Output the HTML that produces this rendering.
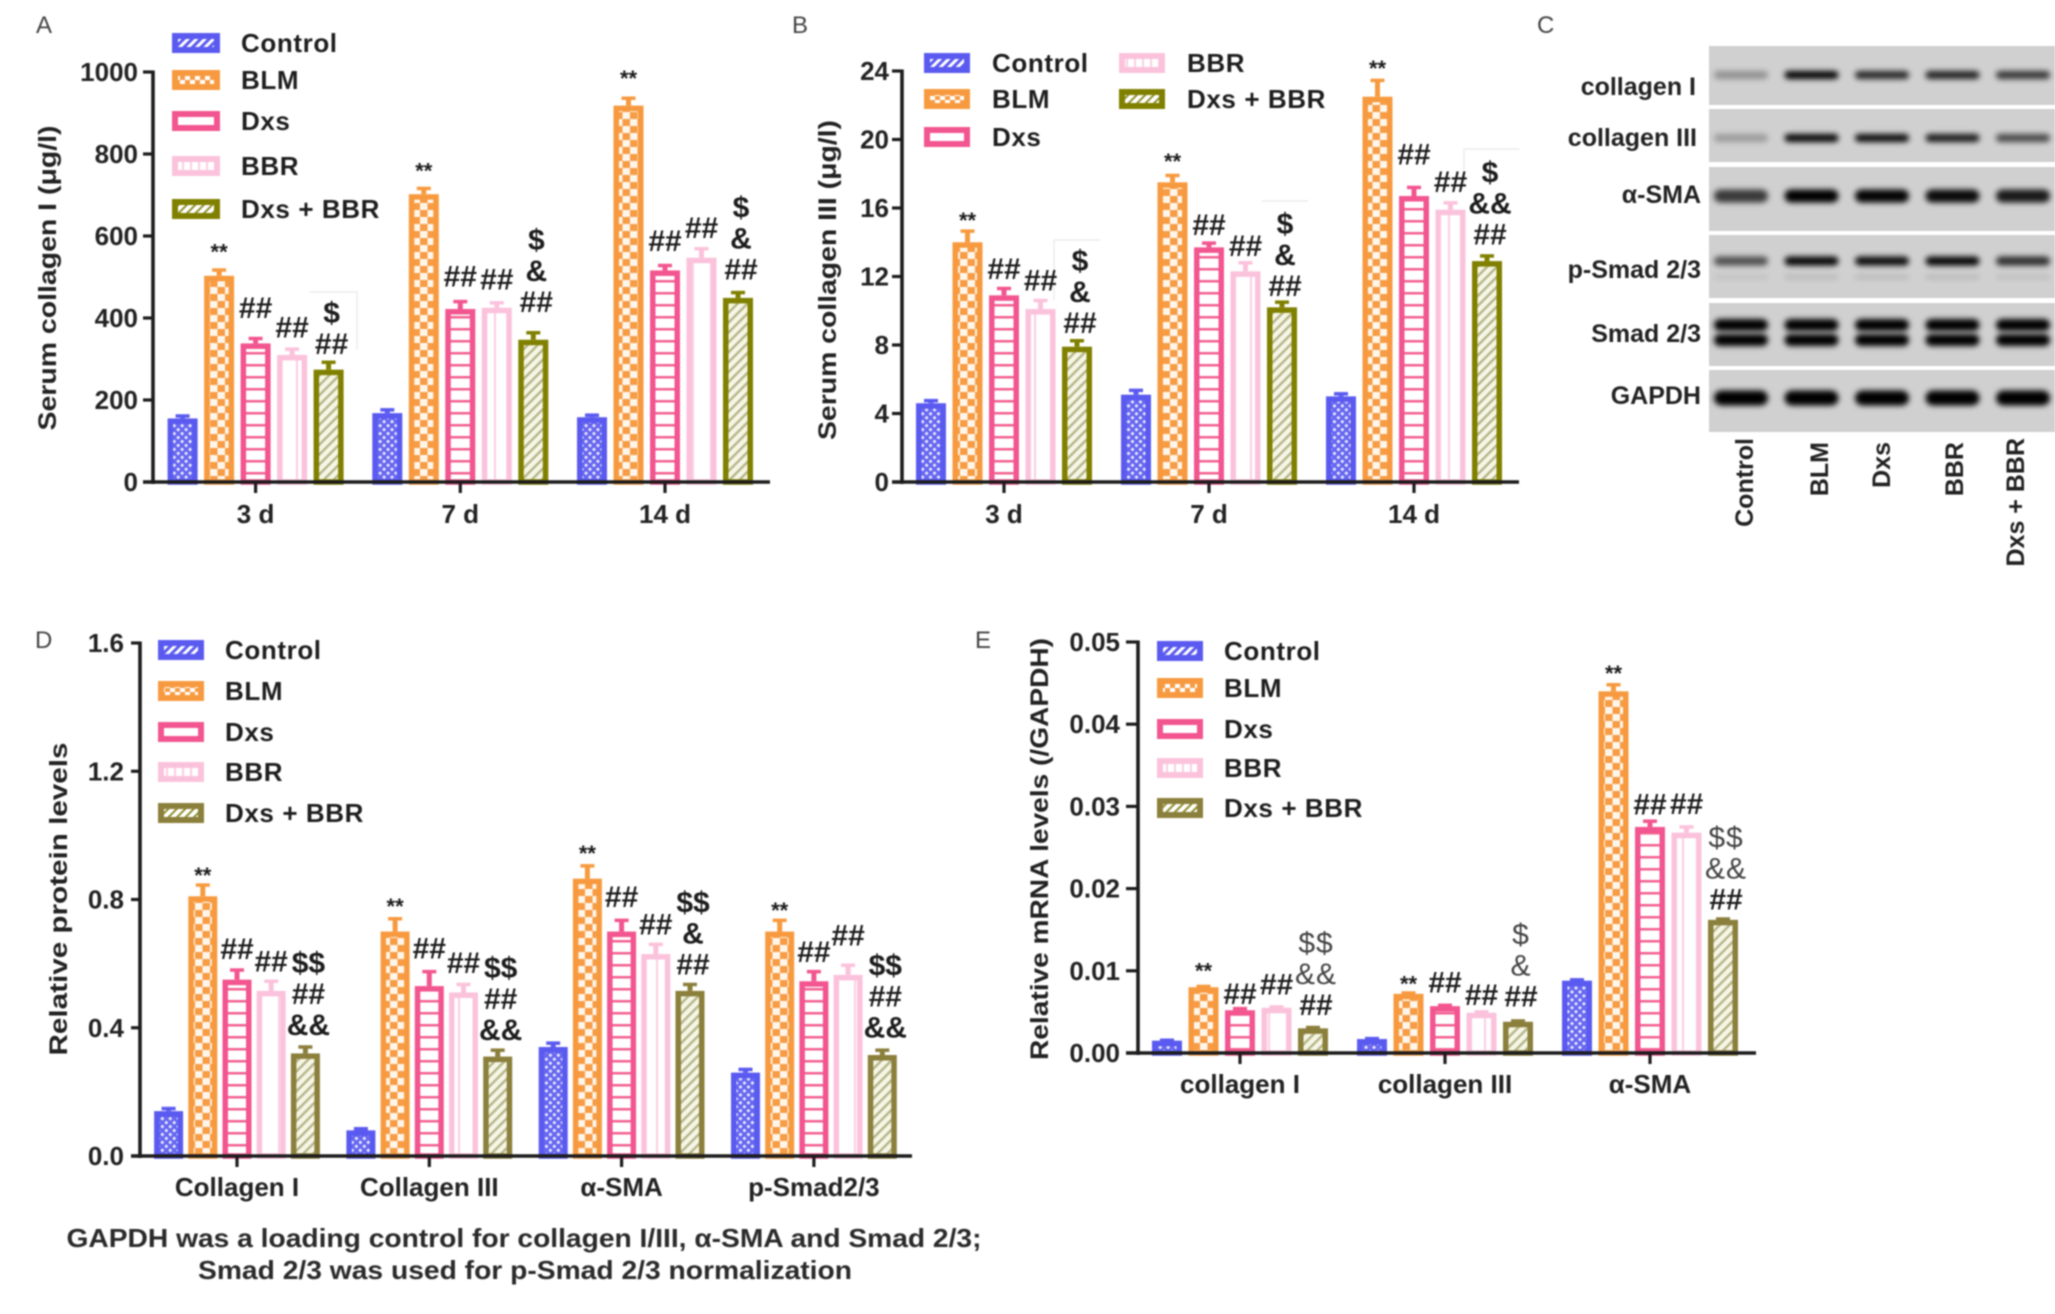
<!DOCTYPE html>
<html lang="en">
<head>
<meta charset="utf-8">
<title>Serum collagen, protein and mRNA levels</title>
<style>
html,body{margin:0;padding:0;background:#fff;}
#figure{display:block;width:2055px;height:1314px;filter:blur(0.8px);font-family:"Liberation Sans",Arial,sans-serif;}
.panel-letter{font-size:24px;fill:#444;}
.title{font-size:25px;font-weight:bold;fill:#222;}
.tick{font-size:26px;font-weight:bold;fill:#222;text-anchor:end;dominant-baseline:central;}
.cat{font-size:26px;font-weight:bold;fill:#222;text-anchor:middle;dominant-baseline:central;}
.leg{font-size:26px;font-weight:bold;fill:#1e1e1e;dominant-baseline:central;letter-spacing:.6px;}
.note{font-weight:bold;fill:#1c1c1c;text-anchor:middle;dominant-baseline:central;}
.blot-label{font-size:25px;font-weight:bold;fill:#222;text-anchor:end;dominant-baseline:central;}
.foot{font-size:26px;font-weight:bold;fill:#2a2a2a;text-anchor:middle;dominant-baseline:central;}
.artifact{stroke:#ececec;stroke-width:1.5;fill:none;}
</style>
</head>
<body>
<svg id="figure" xmlns="http://www.w3.org/2000/svg" width="2055" height="1314" viewBox="0 0 2055 1314">
<defs>
  <pattern id="fill-control" width="5.6" height="5.6" patternUnits="userSpaceOnUse" patternTransform="rotate(45)">
    <rect width="5.6" height="5.6" fill="#ecebff"/><rect width="2.8" height="5.6" fill="#6666f0"/><rect width="5.6" height="2.8" fill="#6666f0"/>
  </pattern>
  <pattern id="fill-blm" width="15" height="14" patternUnits="userSpaceOnUse">
    <rect width="15" height="14" fill="#fff6ea"/><rect width="7.5" height="7" fill="#f79c45"/><rect x="7.5" y="7" width="7.5" height="7" fill="#f79c45"/>
  </pattern>
  <pattern id="fill-dxs" width="10" height="12" patternUnits="userSpaceOnUse">
    <rect width="10" height="12" fill="#fff"/><rect y="4" width="10" height="2.5" fill="#f2608f"/>
  </pattern>
  <pattern id="fill-bbr" width="18" height="10" patternUnits="userSpaceOnUse">
    <rect width="18" height="10" fill="#fff"/><rect x="8" width="2" height="10" fill="#fbcfe2"/>
  </pattern>
  <pattern id="fill-combo" width="7" height="7" patternUnits="userSpaceOnUse" patternTransform="rotate(45)">
    <rect width="7" height="7" fill="#f6f6e6"/><rect width="2.4" height="7" fill="#b5b58a"/>
  </pattern>
  <pattern id="leg-control" width="6" height="6" patternUnits="userSpaceOnUse" patternTransform="rotate(45)">
    <rect width="6" height="6" fill="#fff"/><rect width="3" height="6" fill="#5b5bf0"/>
  </pattern>
  <pattern id="leg-blm" width="10" height="8" patternUnits="userSpaceOnUse">
    <rect width="10" height="8" fill="#f79c45"/><rect width="5" height="4" fill="#fff"/><rect x="5" y="4" width="5" height="4" fill="#fff"/>
  </pattern>
  <pattern id="leg-bbr" width="8" height="8" patternUnits="userSpaceOnUse">
    <rect width="8" height="8" fill="#fff"/><rect x="6" width="2" height="8" fill="#fbcfe2"/>
  </pattern>
  <pattern id="leg-combo" width="6" height="6" patternUnits="userSpaceOnUse" patternTransform="rotate(45)">
    <rect width="6" height="6" fill="#fff"/><rect width="2" height="6" fill="#8f8f30"/>
  </pattern>
  <filter id="band-blur" x="-30%" y="-150%" width="160%" height="400%"><feGaussianBlur stdDeviation="3"/></filter>
</defs>

<text class="panel-letter" x="36" y="33">A</text>
<text class="panel-letter" x="792" y="33">B</text>
<text class="panel-letter" x="1537" y="33">C</text>
<text class="panel-letter" x="35" y="648">D</text>
<text class="panel-letter" x="975" y="648">E</text>

<text class="title" text-anchor="middle" dominant-baseline="central" transform="translate(48,278) rotate(-90)" textLength="305" lengthAdjust="spacingAndGlyphs">Serum collagen I (μg/l)</text>
<text class="title" text-anchor="middle" dominant-baseline="central" transform="translate(828,280) rotate(-90)" textLength="320" lengthAdjust="spacingAndGlyphs">Serum collagen III (μg/l)</text>
<text class="title" text-anchor="middle" dominant-baseline="central" transform="translate(59,899) rotate(-90)" textLength="313" lengthAdjust="spacingAndGlyphs">Relative protein levels</text>
<text class="title" text-anchor="middle" dominant-baseline="central" transform="translate(1040,849) rotate(-90)" textLength="422" lengthAdjust="spacingAndGlyphs">Relative mRNA levels (/GAPDH)</text>

<g>
  <path class="artifact" d="M310 292H357V350"/>
  <path class="artifact" d="M1054 300V240H1100"/>
  <path class="artifact" d="M1262 201H1308"/>
  <path class="artifact" d="M1464 185V149H1519"/>
</g>

<g id="panel-a"></g>
<g id="panel-b"></g>
<g id="panel-c"></g>
<g id="panel-d"></g>
<g id="panel-e"></g>

<text class="foot" x="524" y="1238" textLength="915" lengthAdjust="spacingAndGlyphs">GAPDH was a loading control for collagen I/III, α-SMA and Smad 2/3;</text>
<text class="foot" x="525" y="1270" textLength="654" lengthAdjust="spacingAndGlyphs">Smad 2/3 was used for p-Smad 2/3 normalization</text>
</svg>

<script>
/* ---------- shared series ---------- */
const seriesNames = ['Control', 'BLM', 'Dxs', 'BBR', 'Dxs + BBR'];

/* ---------- panel A data ---------- */
const aCategories = ['3 d', '7 d', '14 d'];
const aTicks = ['0', '200', '400', '600', '800', '1000'];
const aControl = [155, 168, 158];
const aBLM = [503, 702, 918];
const aDxs = [338, 422, 516];
const aBBR = [310, 425, 547];
const aCombo = [274, 347, 449];
const aControlErr = [6, 8, 5];
const aBLMErr = [14, 14, 18];
const aDxsErr = [12, 18, 12];
const aBBRErr = [14, 12, 22];
const aComboErr = [18, 17, 13];
const aNotes = [
  [[], [], []],
  [['**'], ['**'], ['**']],
  [['##'], ['##'], ['##']],
  [['##'], ['##'], ['##']],
  [['$', '##'], ['$', '&', '##'], ['$', '&', '##']]
];

/* ---------- panel B data ---------- */
const bCategories = ['3 d', '7 d', '14 d'];
const bTicks = ['0', '4', '8', '12', '16', '20', '24'];
const bControl = [4.6, 5.1, 5.0];
const bBLM = [14.0, 17.5, 22.5];
const bDxs = [10.9, 13.7, 16.7];
const bBBR = [10.1, 12.3, 15.9];
const bCombo = [7.9, 10.2, 12.9];
const bControlErr = [0.15, 0.25, 0.15];
const bBLMErr = [0.65, 0.4, 0.95];
const bDxsErr = [0.4, 0.25, 0.5];
const bBBRErr = [0.5, 0.5, 0.4];
const bComboErr = [0.35, 0.3, 0.3];
const bNotes = [
  [[], [], []],
  [['**'], ['**'], ['**']],
  [['##'], ['##'], ['##']],
  [['##'], ['##'], ['##']],
  [['$', '&', '##'], ['$', '&', '##'], ['$', '&&', '##']]
];

/* ---------- panel D data ---------- */
const dCategories = ['Collagen I', 'Collagen III', 'α-SMA', 'p-Smad2/3'];
const dTicks = ['0.0', '0.4', '0.8', '1.2', '1.6'];
const dControl = [0.14, 0.08, 0.34, 0.26];
const dBLM = [0.81, 0.70, 0.865, 0.70];
const dDxs = [0.55, 0.53, 0.70, 0.545];
const dBBR = [0.515, 0.51, 0.63, 0.565];
const dCombo = [0.32, 0.31, 0.515, 0.315];
const dControlErr = [0.008, 0.005, 0.012, 0.01];
const dBLMErr = [0.035, 0.04, 0.04, 0.035];
const dDxsErr = [0.03, 0.045, 0.035, 0.03];
const dBBRErr = [0.03, 0.025, 0.03, 0.03];
const dComboErr = [0.02, 0.02, 0.02, 0.015];
const dNotes = [
  [[], [], [], []],
  [['**'], ['**'], ['**'], ['**']],
  [['##'], ['##'], ['##'], ['##']],
  [['##'], ['##'], ['##'], ['##']],
  [['$$', '##', '&&'], ['$$', '##', '&&'], ['$$', '&', '##'], ['$$', '##', '&&']]
];

/* ---------- panel E data ---------- */
const eCategories = ['collagen I', 'collagen III', 'α-SMA'];
const eTicks = ['0.00', '0.01', '0.02', '0.03', '0.04', '0.05'];
const eControl = [0.0015, 0.0017, 0.0088];
const eBLM = [0.0080, 0.0072, 0.0440];
const eDxs = [0.0052, 0.0057, 0.0275];
const eBBR = [0.0055, 0.0049, 0.0268];
const eCombo = [0.0030, 0.0038, 0.0162];
const eControlErr = [0.00005, 0.00005, 0.0001];
const eBLMErr = [0.0001, 0.0001, 0.0008];
const eDxsErr = [0.0002, 0.0001, 0.0007];
const eBBRErr = [0.0001, 0.0001, 0.0007];
const eComboErr = [0.0001, 0.0001, 0.0001];
const eNotes = [
  [[], [], []],
  [['**'], ['**'], ['**']],
  [['##'], ['##'], ['##']],
  [['##'], ['##'], ['##']],
  [['$$', '&&', '##'], ['$', '&', '##'], ['$$', '&&', '##']]
];

/* ---------- panel C band strengths (0..1) ---------- */
const blotLanes = ['Control', 'BLM', 'Dxs', 'BBR', 'Dxs + BBR'];
const blotRows = ['collagen I', 'collagen III', 'α-SMA', 'p-Smad 2/3', 'Smad 2/3', 'GAPDH'];
const bandCollagenI = [0.3, 1, 0.82, 0.85, 0.75];
const bandCollagenIII = [0.25, 0.98, 0.95, 0.88, 0.65];
const bandSma = [0.72, 1, 0.98, 0.95, 0.88];
const bandPSmad = [0.62, 0.98, 0.95, 0.98, 0.78];
const bandSmad = [1, 1, 1, 1, 1];
const bandGapdh = [1, 1, 1, 1, 1];

/* ---------- layout only ---------- */
const seriesStyles = [
  {key: 'control', stroke: '#5a5af0', swatch: 'leg-control', fill: 'fill-control'},
  {key: 'blm', stroke: '#f79a3f', swatch: 'leg-blm', fill: 'fill-blm'},
  {key: 'dxs', stroke: '#f2558f', swatch: '#fff', fill: 'fill-dxs'},
  {key: 'bbr', stroke: '#fbc2dc', swatch: 'leg-bbr', fill: 'fill-bbr'},
  {key: 'combo', stroke: '#808000', swatch: 'leg-combo', fill: 'fill-combo'}
];
const layouts = {
  a: {axisX: 153, zeroY: 482, topY: 72, startX: 143, endX: 770, groupStart: 255.6, groupStep: 204.7, pitch: 36.5, barW: 30, yMax: 1000, tickGap: 15, catY: 514, comboStroke: '#808000',
      legX: 172, legW: 48, legTextX: 241, legRows: [[0, 43], [0, 80], [0, 121], [0, 166], [0, 209]], legCols: [0],
      lift: [[0, 0, 0], [27, 26, 30], [35, 32, 29], [27, 28, 29], [25, 37, 28]]},
  b: {axisX: 902, zeroY: 482, topY: 71, startX: 892, endX: 1519, groupStart: 1004, groupStep: 205, pitch: 36.5, barW: 30, yMax: 24, tickGap: 13, catY: 514, comboStroke: '#808000',
      legX: 924, legW: 46, legTextX: 992, legRows: [[0, 63], [0, 99], [0, 137], [1, 63], [1, 99]], legCols: [0, 195],
      lift: [[0, 0, 0], [25, 24, 31], [26, 22, 41], [28, 25, 27], [23, 21, 26]]},
  d: {axisX: 140, zeroY: 1156, topY: 643, startX: 131, endX: 912, groupStart: 237, groupStep: 192.3, pitch: 34.2, barW: 29, yMax: 1.6, tickGap: 16, catY: 1187, comboStroke: '#8b7f3c',
      legX: 158, legW: 46, legTextX: 225, legRows: [[0, 650], [0, 691], [0, 732], [0, 772], [0, 813]], legCols: [0],
      lift: [[0, 0, 0, 0], [24, 28, 28, 24], [30, 37, 34, 29], [29, 29, 29, 39], [28, 26, 26, 27]]},
  e: {axisX: 1138, zeroY: 1053, topY: 642, startX: 1126, endX: 1756, groupStart: 1240, groupStep: 205, pitch: 36.5, barW: 30, yMax: 0.05, tickGap: 18, catY: 1084, comboStroke: '#8b7f3c',
      legX: 1157, legW: 46, legTextX: 1224, legRows: [[0, 651], [0, 688], [0, 729], [0, 768], [0, 808]], legCols: [0],
      lift: [[0, 0, 0], [19, 13, 21], [16, 23, 22], [23, 17, 28], [23, 25, 20]]}
};
const SVGNS = 'http://www.w3.org/2000/svg';
const LINE_PITCH = 31;

function make(tag, parent, attrs, text) {
  const el = document.createElementNS(SVGNS, tag);
  for (const k in attrs) el.setAttribute(k, attrs[k]);
  if (text !== undefined) el.textContent = text;
  parent.appendChild(el);
  return el;
}
function yAxisFn(L) {
  return function (v) { return L.zeroY - (v / L.yMax) * (L.zeroY - L.topY); };
}
function groupFn(L) {
  return function (g) { return L.groupStart + g * L.groupStep; };
}
function barFn(L) {
  const grp = groupFn(L);
  return function (g, s) { return grp(g) + (s - 2) * L.pitch; };
}

function drawChart(id, L, cats, ticks, series, errs, notes) {
  const root = document.getElementById('panel-' + id);
  const y = yAxisFn(L), gx = groupFn(L), bx = barFn(L);

  series.forEach(function (vals, s) {
    const st = seriesStyles[s];
    const stroke = st.key === 'combo' ? L.comboStroke : st.stroke;
    vals.forEach(function (v, g) {
      const cx = bx(g, s), top = y(v), errTop = y(v + errs[s][g]);
      const sw = 5.5;
      const errLine = make('line', root, {x1: cx, x2: cx, y1: top, y2: errTop, stroke: stroke, 'stroke-width': 5});
      
      
      const cap = make('line', root, {x1: cx - 7, x2: cx + 7, y1: errTop, y2: errTop, stroke: stroke, 'stroke-width': 3.5});
      
      
      const bar = make('rect', root, {x: cx - L.barW / 2 + sw / 2, y: top + sw / 2, width: L.barW - sw, height: Math.max(0, L.zeroY - top - sw / 2), fill: 'url(#' + st.fill + ')', stroke: stroke, 'stroke-width': sw});
      
      

      const lines = notes[s][g];
      const bottomY = top - L.lift[s][g];
      const dx = s === 4 ? 3 : 0;
      lines.forEach(function (txt, i) {
        const ly = bottomY - (lines.length - 1 - i) * LINE_PITCH;
        const isStar = txt === '**';
        const soft = id === 'e' && (txt[0] === '$' || txt[0] === '&');
        const t = make('text', root, {x: cx + dx, y: isStar ? ly + 3 : ly, class: 'note', 'font-size': isStar ? 22 : 30}, txt);
        if (soft) { t.setAttribute('style', 'font-weight:normal;fill:#444;letter-spacing:1px'); }
        
        
      });
    });
  });

  const yAxis = make('line', root, {x1: L.axisX, x2: L.axisX, y1: L.topY - 1.5, y2: L.zeroY + 2, stroke: '#1c1c1c', 'stroke-width': 3.6});
  
  
  const xAxis = make('line', root, {x1: L.startX, x2: L.endX, y1: L.zeroY, y2: L.zeroY, stroke: '#1c1c1c', 'stroke-width': 3.6});
  
  

  ticks.forEach(function (lab) {
    const v = parseFloat(lab), ty = y(v);
    const tm = make('line', root, {x1: L.startX, x2: L.axisX, y1: ty, y2: ty, stroke: '#1c1c1c', 'stroke-width': 3.2});
    
    
    const tl = make('text', root, {x: L.axisX - L.tickGap, y: ty, class: 'tick'}, lab);
    
    
  });
  cats.forEach(function (lab, g) {
    const tm = make('line', root, {x1: gx(g), x2: gx(g), y1: L.zeroY, y2: L.zeroY + 11, stroke: '#1c1c1c', 'stroke-width': 3.2});
    
    
    const tl = make('text', root, {x: gx(g), y: L.catY, class: 'cat'}, lab);
    
    
  });

  seriesNames.forEach(function (name, s) {
    const st = seriesStyles[s];
    const stroke = st.key === 'combo' ? L.comboStroke : st.stroke;
    const colOff = L.legCols[L.legRows[s][0]], cy = L.legRows[s][1];
    const g = make('g', root, {});
    
    
    const sx = L.legX + colOff;
    const box = make('rect', g, {x: sx, y: cy - 10, width: L.legW, height: 20, fill: stroke});
    
    
    const inner = make('rect', g, {x: sx + 6, y: cy - 4, width: L.legW - 12, height: 8, fill: st.swatch[0] === '#' ? st.swatch : 'url(#' + st.swatch + ')'});
    
    
    const label = make('text', g, {x: L.legTextX + colOff, y: cy, class: 'leg'}, name);
    
    
  });
}

drawChart('a', layouts.a, aCategories, aTicks, [aControl, aBLM, aDxs, aBBR, aCombo], [aControlErr, aBLMErr, aDxsErr, aBBRErr, aComboErr], aNotes);
drawChart('b', layouts.b, bCategories, bTicks, [bControl, bBLM, bDxs, bBBR, bCombo], [bControlErr, bBLMErr, bDxsErr, bBBRErr, bComboErr], bNotes);
drawChart('d', layouts.d, dCategories, dTicks, [dControl, dBLM, dDxs, dBBR, dCombo], [dControlErr, dBLMErr, dDxsErr, dBBRErr, dComboErr], dNotes);
drawChart('e', layouts.e, eCategories, eTicks, [eControl, eBLM, eDxs, eBBR, eCombo], [eControlErr, eBLMErr, eDxsErr, eBBRErr, eComboErr], eNotes);

/* ---------- panel C western blot ---------- */
(function () {
  const root = document.getElementById('panel-c');
  const laneX = function (i) { return 1741 + i * 70.5; };
  const rows = [
    {top: 46, bottom: 105, labelY: 87, labelX: 1696, bands: [{y: 75, h: 8, v: bandCollagenI}]},
    {top: 109, bottom: 162, labelY: 138, labelX: 1697, bands: [{y: 138, h: 8, v: bandCollagenIII}]},
    {top: 167, bottom: 231, labelY: 195, labelX: 1701, bands: [{y: 196, h: 13, v: bandSma}]},
    {top: 235, bottom: 298, labelY: 270, labelX: 1701, bands: [{y: 261, h: 9, v: bandPSmad}, {y: 277, h: 4, v: bandPSmad.map(function (x) { return x * 0.13; })}]},
    {top: 303, bottom: 366, labelY: 334, labelX: 1701, bands: [{y: 325, h: 12, v: bandSmad}, {y: 340, h: 12, v: bandSmad}]},
    {top: 370, bottom: 432, labelY: 396, labelX: 1701, bands: [{y: 398, h: 15, v: bandGapdh}]}
  ];
  rows.forEach(function (r, idx) {
    const bg = make('rect', root, {x: 1709, y: r.top, width: 346, height: r.bottom - r.top, fill: '#d0d0d0'});
    
    
    r.bands.forEach(function (b) {
      b.v.forEach(function (level, i) {
        const band = make('rect', root, {x: laneX(i) - 27, y: b.y - b.h / 2, width: 54, height: b.h, rx: b.h / 2, fill: '#000', opacity: level, filter: 'url(#band-blur)'});
        
        
      });
    });
    const label = make('text', root, {x: r.labelX, y: r.labelY, class: 'blot-label'}, blotRows[idx]);
    
    
  });
  const laneLabelX = [1745, 1820, 1882, 1955, 2016];
  blotLanes.forEach(function (name, i) {
    const t = make('text', root, {transform: 'translate(' + laneLabelX[i] + ',' + (i === 0 || i === 4 ? 438 : 442) + ') rotate(-90)', 'text-anchor': 'end', 'dominant-baseline': 'central', 'font-size': 25, 'font-weight': 'bold', fill: '#222'}, name);
    
    
  });
})();
</script>
</body>
</html>
